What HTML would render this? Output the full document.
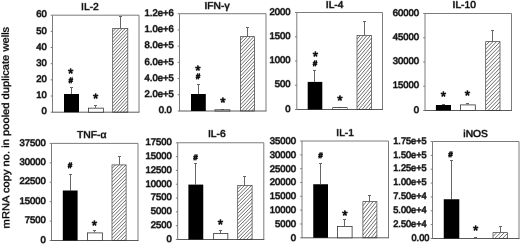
<!DOCTYPE html>
<html><head><meta charset="utf-8"><title>Cytokine mRNA copy numbers</title>
<style>
html,body{margin:0;padding:0;background:#fff;}
body{width:520px;height:244px;overflow:hidden;}
svg{display:block;font-family:"Liberation Sans",Arial,sans-serif;fill:#000;}
text{text-rendering:geometricPrecision;stroke:#777;stroke-width:1.1px;paint-order:stroke fill;stroke-linejoin:round;}
.tk{font-size:9.5px;text-anchor:end;}
.tt{font-size:10px;text-anchor:middle;stroke-width:0.95px;stroke:#808080;}
.yl{font-size:10.1px;text-anchor:start;stroke-width:0.7px;stroke:#888;}
.mk{text-anchor:middle;font-weight:bold;font-style:italic;stroke-width:0.9px;stroke:#333;}
.st{text-anchor:middle;font-size:13.6px;stroke-width:0.9px;stroke:#444}
.fr{fill:none;stroke:#7c7c7c;stroke-width:1;}
.ax{stroke:#5a5a5a;stroke-width:1;fill:none;}
.er{stroke:#666;stroke-width:1;fill:none;}
</style></head><body>
<svg width="520" height="244" viewBox="0 0 520 244">
<rect width="520" height="244" fill="#fff"/>
<text class="yl" transform="translate(9.4,228.4) rotate(-90.2)" textLength="201.6" lengthAdjust="spacingAndGlyphs">mRNA copy no. in pooled duplicate wells</text>
<g>
<text class="tt" transform="translate(89.95,9.60) scale(1.03,1)">IL-2</text>
<path class="fr" d="M52.5 112.2V15.2H139.0V112.2"/>
<path class="ax" d="M52.0 112.2H139.5"/>
<path class="fr" d="M50.7 15.20H52.5"/><text class="tk" x="46.90" y="17.40">60</text>
<path class="fr" d="M50.7 31.37H52.5"/><text class="tk" x="46.90" y="33.57">50</text>
<path class="fr" d="M50.7 47.53H52.5"/><text class="tk" x="46.90" y="49.73">40</text>
<path class="fr" d="M50.7 63.70H52.5"/><text class="tk" x="46.90" y="65.90">30</text>
<path class="fr" d="M50.7 79.87H52.5"/><text class="tk" x="46.90" y="82.07">20</text>
<path class="fr" d="M50.7 96.03H52.5"/><text class="tk" x="46.90" y="98.23">10</text>
<path class="fr" d="M50.7 112.20H52.5"/><text class="tk" x="46.90" y="114.40">0</text>
<path class="er" d="M71.50 94.00V87.00M70.00 87.50H73.00"/><rect x="64" y="94" width="15.00" height="18.20" fill="#000"/>
<path class="er" d="M95.50 107.75V105.00M94.00 105.50H97.00"/><rect x="88.4" y="108.15" width="14.95" height="4.05" fill="#fff" stroke="#333" stroke-width="0.8"/>
<path class="er" d="M120.50 28.00V16.00M119.00 16.50H122.00"/><clipPath id="c0"><rect x="112.70" y="28.40" width="15.10" height="83.80"/></clipPath><path clip-path="url(#c0)" d="M112.70 28.40L127.80 12.21M112.70 31.80L127.80 15.61M112.70 35.20L127.80 19.01M112.70 38.60L127.80 22.41M112.70 42.00L127.80 25.81M112.70 45.40L127.80 29.21M112.70 48.80L127.80 32.61M112.70 52.20L127.80 36.01M112.70 55.60L127.80 39.41M112.70 59.00L127.80 42.81M112.70 62.40L127.80 46.21M112.70 65.80L127.80 49.61M112.70 69.20L127.80 53.01M112.70 72.60L127.80 56.41M112.70 76.00L127.80 59.81M112.70 79.40L127.80 63.21M112.70 82.80L127.80 66.61M112.70 86.20L127.80 70.01M112.70 89.60L127.80 73.41M112.70 93.00L127.80 76.81M112.70 96.40L127.80 80.21M112.70 99.80L127.80 83.61M112.70 103.20L127.80 87.01M112.70 106.60L127.80 90.41M112.70 110.00L127.80 93.81M112.70 113.40L127.80 97.21M112.70 116.80L127.80 100.61M112.70 120.20L127.80 104.01M112.70 123.60L127.80 107.41M112.70 127.00L127.80 110.81" stroke="#333" stroke-width="0.72" fill="none"/><rect x="112.70" y="28.40" width="15.10" height="83.80" fill="none" stroke="#3a3a3a" stroke-width="0.7"/>
<text class="st" x="70.6" y="77.80">*</text>
<text class="mk" style="font-size:7.8px" x="70.6" y="83.45">#</text>
<text class="st" x="95.6" y="102.80">*</text>
</g>
<g>
<text class="tt" transform="translate(217.00,8.70) scale(1.03,1)">IFN-γ</text>
<path class="fr" d="M179.5 111.0V13.7H266.0V111.0"/>
<path class="ax" d="M179.0 111.0H266.5"/>
<path class="fr" d="M177.7 13.70H179.5"/><text class="tk" x="173.90" y="15.90">1.2e+6</text>
<path class="fr" d="M177.7 29.92H179.5"/><text class="tk" x="173.90" y="32.12">1.0e+6</text>
<path class="fr" d="M177.7 46.13H179.5"/><text class="tk" x="173.90" y="48.33">8.0e+5</text>
<path class="fr" d="M177.7 62.35H179.5"/><text class="tk" x="173.90" y="64.55">6.0e+5</text>
<path class="fr" d="M177.7 78.57H179.5"/><text class="tk" x="173.90" y="80.77">4.0e+5</text>
<path class="fr" d="M177.7 94.78H179.5"/><text class="tk" x="173.90" y="96.98">2.0e+5</text>
<path class="fr" d="M177.7 111.00H179.5"/><text class="tk" x="171.90" y="113.20">0.0</text>
<path class="er" d="M198.50 94.00V84.00M197.00 84.50H200.00"/><rect x="191" y="94" width="14.80" height="17.00" fill="#000"/>
<path class="er" d="M222.50 109.40V109.00M221.00 109.50H224.00"/><rect x="215.0" y="109.80000000000001" width="14.90" height="1.20" fill="#fff" stroke="#333" stroke-width="0.8"/>
<path class="er" d="M247.50 36.25V27.00M246.00 27.50H249.00"/><clipPath id="c1"><rect x="240.40" y="36.65" width="14.20" height="74.35"/></clipPath><path clip-path="url(#c1)" d="M240.40 36.65L254.60 21.42M240.40 40.25L254.60 25.02M240.40 43.85L254.60 28.62M240.40 47.45L254.60 32.22M240.40 51.05L254.60 35.82M240.40 54.65L254.60 39.42M240.40 58.25L254.60 43.02M240.40 61.85L254.60 46.62M240.40 65.45L254.60 50.22M240.40 69.05L254.60 53.82M240.40 72.65L254.60 57.42M240.40 76.25L254.60 61.02M240.40 79.85L254.60 64.62M240.40 83.45L254.60 68.22M240.40 87.05L254.60 71.82M240.40 90.65L254.60 75.42M240.40 94.25L254.60 79.02M240.40 97.85L254.60 82.62M240.40 101.45L254.60 86.22M240.40 105.05L254.60 89.82M240.40 108.65L254.60 93.42M240.40 112.25L254.60 97.02M240.40 115.85L254.60 100.62M240.40 119.45L254.60 104.22M240.40 123.05L254.60 107.82" stroke="#333" stroke-width="0.72" fill="none"/><rect x="240.40" y="36.65" width="14.20" height="74.35" fill="none" stroke="#3a3a3a" stroke-width="0.7"/>
<text class="st" x="198" y="75.10">*</text>
<text class="mk" style="font-size:7.8px" x="198" y="79.20">#</text>
<text class="st" x="223" y="106.60">*</text>
</g>
<g>
<text class="tt" transform="translate(334.65,8.30) scale(1.03,1)">IL-4</text>
<path class="fr" d="M296.8 109.5V12.5H382.5V109.5"/>
<path class="ax" d="M296.3 109.5H383.0"/>
<path class="fr" d="M295.0 12.50H296.8"/><text class="tk" x="290.60" y="14.70">2000</text>
<path class="fr" d="M295.0 36.75H296.8"/><text class="tk" x="290.60" y="38.95">1500</text>
<path class="fr" d="M295.0 61.00H296.8"/><text class="tk" x="290.60" y="63.20">1000</text>
<path class="fr" d="M295.0 85.25H296.8"/><text class="tk" x="290.60" y="87.45">500</text>
<path class="fr" d="M295.0 109.50H296.8"/><text class="tk" x="290.60" y="111.70">0</text>
<path class="er" d="M314.50 81.90V70.00M313.00 70.50H316.00"/><rect x="307.7" y="81.9" width="14.60" height="27.60" fill="#000"/>
<path class="er" d="M339.50 107.20V107.00M338.00 107.50H341.00"/><rect x="332.79999999999995" y="107.60000000000001" width="14.30" height="1.90" fill="#fff" stroke="#333" stroke-width="0.8"/>
<path class="er" d="M364.50 35.00V21.00M363.00 21.50H366.00"/><clipPath id="c2"><rect x="357.00" y="35.40" width="14.50" height="74.10"/></clipPath><path clip-path="url(#c2)" d="M357.00 35.40L371.50 18.12M357.00 39.40L371.50 22.12M357.00 43.40L371.50 26.12M357.00 47.40L371.50 30.12M357.00 51.40L371.50 34.12M357.00 55.40L371.50 38.12M357.00 59.40L371.50 42.12M357.00 63.40L371.50 46.12M357.00 67.40L371.50 50.12M357.00 71.40L371.50 54.12M357.00 75.40L371.50 58.12M357.00 79.40L371.50 62.12M357.00 83.40L371.50 66.12M357.00 87.40L371.50 70.12M357.00 91.40L371.50 74.12M357.00 95.40L371.50 78.12M357.00 99.40L371.50 82.12M357.00 103.40L371.50 86.12M357.00 107.40L371.50 90.12M357.00 111.40L371.50 94.12M357.00 115.40L371.50 98.12M357.00 119.40L371.50 102.12M357.00 123.40L371.50 106.12" stroke="#333" stroke-width="0.72" fill="none"/><rect x="357.00" y="35.40" width="14.50" height="74.10" fill="none" stroke="#3a3a3a" stroke-width="0.7"/>
<text class="st" x="315.5" y="61.30">*</text>
<text class="mk" style="font-size:7.8px" x="315" y="65.70">#</text>
<text class="st" x="340" y="104.80">*</text>
</g>
<g>
<text class="tt" transform="translate(464.25,8.40) scale(1.03,1)">IL-10</text>
<path class="fr" d="M425.0 110.5V13.5H511.5V110.5"/>
<path class="ax" d="M424.5 110.5H512.0"/>
<path class="fr" d="M423.2 13.50H425.0"/><text class="tk" x="419.10" y="15.50">60000</text>
<path class="fr" d="M423.2 37.75H425.0"/><text class="tk" x="419.10" y="39.75">45000</text>
<path class="fr" d="M423.2 62.00H425.0"/><text class="tk" x="419.10" y="64.00">30000</text>
<path class="fr" d="M423.2 86.25H425.0"/><text class="tk" x="419.10" y="88.25">15000</text>
<path class="fr" d="M423.2 110.50H425.0"/><text class="tk" x="419.10" y="112.50">0</text>
<path class="er" d="M443.50 105.00V104.00M442.00 104.50H445.00"/><rect x="435.9" y="105" width="15.10" height="5.50" fill="#000"/>
<path class="er" d="M467.50 104.50V103.00M466.00 103.50H469.00"/><rect x="460.4" y="104.9" width="14.90" height="5.60" fill="#fff" stroke="#333" stroke-width="0.8"/>
<path class="er" d="M492.50 41.25V30.00M491.00 30.50H494.00"/><clipPath id="c3"><rect x="485.70" y="41.65" width="14.30" height="68.85"/></clipPath><path clip-path="url(#c3)" d="M485.70 41.65L500.00 26.84M485.70 45.40L500.00 30.59M485.70 49.15L500.00 34.34M485.70 52.90L500.00 38.09M485.70 56.65L500.00 41.84M485.70 60.40L500.00 45.59M485.70 64.15L500.00 49.34M485.70 67.90L500.00 53.09M485.70 71.65L500.00 56.84M485.70 75.40L500.00 60.59M485.70 79.15L500.00 64.34M485.70 82.90L500.00 68.09M485.70 86.65L500.00 71.84M485.70 90.40L500.00 75.59M485.70 94.15L500.00 79.34M485.70 97.90L500.00 83.09M485.70 101.65L500.00 86.84M485.70 105.40L500.00 90.59M485.70 109.15L500.00 94.34M485.70 112.90L500.00 98.09M485.70 116.65L500.00 101.84M485.70 120.40L500.00 105.59M485.70 124.15L500.00 109.34" stroke="#333" stroke-width="0.72" fill="none"/><rect x="485.70" y="41.65" width="14.30" height="68.85" fill="none" stroke="#3a3a3a" stroke-width="0.7"/>
<text class="st" x="443.4" y="100.80">*</text>
<text class="st" x="467.4" y="100.30">*</text>
</g>
<g>
<text class="tt" transform="translate(91.65,138.40) scale(1.03,1)">TNF-α</text>
<path class="fr" d="M51.5 240.5V143.4H138.0V240.5"/>
<path class="ax" d="M51.0 240.5H138.5"/>
<path class="fr" d="M49.7 143.40H51.5"/><text class="tk" x="45.90" y="145.60">37500</text>
<path class="fr" d="M49.7 162.82H51.5"/><text class="tk" x="45.90" y="165.02">30000</text>
<path class="fr" d="M49.7 182.24H51.5"/><text class="tk" x="45.90" y="184.44">22500</text>
<path class="fr" d="M49.7 201.66H51.5"/><text class="tk" x="45.90" y="203.86">15000</text>
<path class="fr" d="M49.7 221.08H51.5"/><text class="tk" x="45.90" y="223.28">7500</text>
<path class="fr" d="M49.7 240.50H51.5"/><text class="tk" x="45.90" y="242.70">0</text>
<path class="er" d="M70.50 190.50V174.00M69.00 174.50H72.00"/><rect x="62.8" y="190.5" width="14.80" height="50.00" fill="#000"/>
<path class="er" d="M94.50 232.50V230.00M93.00 230.50H96.00"/><rect x="87.5" y="232.9" width="14.85" height="7.60" fill="#fff" stroke="#333" stroke-width="0.8"/>
<path class="er" d="M119.50 164.50V156.00M118.00 156.50H121.00"/><clipPath id="c4"><rect x="112.00" y="164.90" width="14.10" height="75.60"/></clipPath><path clip-path="url(#c4)" d="M112.00 164.90L126.10 150.80M112.00 168.40L126.10 154.30M112.00 171.90L126.10 157.80M112.00 175.40L126.10 161.30M112.00 178.90L126.10 164.80M112.00 182.40L126.10 168.30M112.00 185.90L126.10 171.80M112.00 189.40L126.10 175.30M112.00 192.90L126.10 178.80M112.00 196.40L126.10 182.30M112.00 199.90L126.10 185.80M112.00 203.40L126.10 189.30M112.00 206.90L126.10 192.80M112.00 210.40L126.10 196.30M112.00 213.90L126.10 199.80M112.00 217.40L126.10 203.30M112.00 220.90L126.10 206.80M112.00 224.40L126.10 210.30M112.00 227.90L126.10 213.80M112.00 231.40L126.10 217.30M112.00 234.90L126.10 220.80M112.00 238.40L126.10 224.30M112.00 241.90L126.10 227.80M112.00 245.40L126.10 231.30M112.00 248.90L126.10 234.80M112.00 252.40L126.10 238.30" stroke="#333" stroke-width="0.72" fill="none"/><rect x="112.00" y="164.90" width="14.10" height="75.60" fill="none" stroke="#3a3a3a" stroke-width="0.7"/>
<text class="mk" style="font-size:7.8px" x="70" y="167.70">#</text>
<text class="st" x="94.4" y="229.55">*</text>
</g>
<g>
<text class="tt" transform="translate(216.75,137.15) scale(1.03,1)">IL-6</text>
<path class="fr" d="M177.7 239.5V142.75H263.8V239.5"/>
<path class="ax" d="M177.2 239.5H264.3"/>
<path class="fr" d="M175.89999999999998 142.75H177.7"/><text class="tk" x="171.80" y="145.05">17500</text>
<path class="fr" d="M175.89999999999998 156.57H177.7"/><text class="tk" x="171.80" y="158.87">15000</text>
<path class="fr" d="M175.89999999999998 170.39H177.7"/><text class="tk" x="171.80" y="172.69">12500</text>
<path class="fr" d="M175.89999999999998 184.21H177.7"/><text class="tk" x="171.80" y="186.51">10000</text>
<path class="fr" d="M175.89999999999998 198.04H177.7"/><text class="tk" x="171.80" y="200.34">7500</text>
<path class="fr" d="M175.89999999999998 211.86H177.7"/><text class="tk" x="171.80" y="214.16">5000</text>
<path class="fr" d="M175.89999999999998 225.68H177.7"/><text class="tk" x="171.80" y="227.98">2500</text>
<path class="fr" d="M175.89999999999998 239.50H177.7"/><text class="tk" x="171.80" y="241.80">0</text>
<path class="er" d="M195.50 184.60V163.00M194.00 163.50H197.00"/><rect x="188.4" y="184.6" width="14.85" height="54.90" fill="#000"/>
<path class="er" d="M220.50 233.00V230.00M219.00 230.50H222.00"/><rect x="213.65" y="233.4" width="14.20" height="6.10" fill="#fff" stroke="#333" stroke-width="0.8"/>
<path class="er" d="M244.50 185.00V176.00M243.00 176.50H246.00"/><clipPath id="c5"><rect x="237.70" y="185.40" width="14.40" height="54.10"/></clipPath><path clip-path="url(#c5)" d="M237.70 185.40L252.10 171.00M237.70 188.90L252.10 174.50M237.70 192.40L252.10 178.00M237.70 195.90L252.10 181.50M237.70 199.40L252.10 185.00M237.70 202.90L252.10 188.50M237.70 206.40L252.10 192.00M237.70 209.90L252.10 195.50M237.70 213.40L252.10 199.00M237.70 216.90L252.10 202.50M237.70 220.40L252.10 206.00M237.70 223.90L252.10 209.50M237.70 227.40L252.10 213.00M237.70 230.90L252.10 216.50M237.70 234.40L252.10 220.00M237.70 237.90L252.10 223.50M237.70 241.40L252.10 227.00M237.70 244.90L252.10 230.50M237.70 248.40L252.10 234.00M237.70 251.90L252.10 237.50" stroke="#333" stroke-width="0.72" fill="none"/><rect x="237.70" y="185.40" width="14.40" height="54.10" fill="none" stroke="#3a3a3a" stroke-width="0.7"/>
<text class="mk" style="font-size:7.8px" x="195.5" y="159.70">#</text>
<text class="st" x="220.5" y="228.55">*</text>
</g>
<g>
<text class="tt" transform="translate(345.15,136.20) scale(1.03,1)">IL-1</text>
<path class="fr" d="M302.0 237.8V141.0H388.5V237.8"/>
<path class="ax" d="M301.5 237.8H389.0"/>
<path class="fr" d="M300.2 141.00H302.0"/><text class="tk" x="296.10" y="143.90">35000</text>
<path class="fr" d="M300.2 154.83H302.0"/><text class="tk" x="296.10" y="157.73">30000</text>
<path class="fr" d="M300.2 168.66H302.0"/><text class="tk" x="296.10" y="171.56">25000</text>
<path class="fr" d="M300.2 182.49H302.0"/><text class="tk" x="296.10" y="185.39">20000</text>
<path class="fr" d="M300.2 196.31H302.0"/><text class="tk" x="296.10" y="199.21">15000</text>
<path class="fr" d="M300.2 210.14H302.0"/><text class="tk" x="296.10" y="213.04">10000</text>
<path class="fr" d="M300.2 223.97H302.0"/><text class="tk" x="296.10" y="226.87">5000</text>
<path class="fr" d="M300.2 237.80H302.0"/><text class="tk" x="296.10" y="240.70">0</text>
<path class="er" d="M320.50 184.25V163.00M319.00 163.50H322.00"/><rect x="313.25" y="184.25" width="14.75" height="53.55" fill="#000"/>
<path class="er" d="M344.50 226.00V219.00M343.00 219.50H346.00"/><rect x="337.4" y="226.4" width="14.70" height="11.40" fill="#fff" stroke="#333" stroke-width="0.8"/>
<path class="er" d="M369.50 201.25V195.00M368.00 195.50H371.00"/><clipPath id="c6"><rect x="362.90" y="201.65" width="14.00" height="36.15"/></clipPath><path clip-path="url(#c6)" d="M362.90 201.65L376.90 184.36M362.90 205.85L376.90 188.56M362.90 210.05L376.90 192.76M362.90 214.25L376.90 196.96M362.90 218.45L376.90 201.16M362.90 222.65L376.90 205.36M362.90 226.85L376.90 209.56M362.90 231.05L376.90 213.76M362.90 235.25L376.90 217.96M362.90 239.45L376.90 222.16M362.90 243.65L376.90 226.36M362.90 247.85L376.90 230.56M362.90 252.05L376.90 234.76" stroke="#333" stroke-width="0.72" fill="none"/><rect x="362.90" y="201.65" width="14.00" height="36.15" fill="none" stroke="#3a3a3a" stroke-width="0.7"/>
<text class="mk" style="font-size:7.8px" x="320.4" y="157.95">#</text>
<text class="st" x="345" y="219.80">*</text>
</g>
<g>
<text class="tt" transform="translate(475.65,136.65) scale(1.03,1)">iNOS</text>
<path class="fr" d="M432.5 238.5V141.5H519.0V238.5"/>
<path class="ax" d="M432.0 238.5H519.5"/>
<path class="fr" d="M430.7 141.50H432.5"/><text class="tk" transform="translate(426.70,143.70) scale(0.967,1)">1.75e+5</text>
<path class="fr" d="M430.7 155.36H432.5"/><text class="tk" transform="translate(426.70,157.56) scale(0.967,1)">1.50e+5</text>
<path class="fr" d="M430.7 169.21H432.5"/><text class="tk" transform="translate(426.70,171.41) scale(0.967,1)">1.25e+5</text>
<path class="fr" d="M430.7 183.07H432.5"/><text class="tk" transform="translate(426.70,185.27) scale(0.967,1)">1.00e+5</text>
<path class="fr" d="M430.7 196.93H432.5"/><text class="tk" transform="translate(426.70,199.13) scale(0.967,1)">7.50e+4</text>
<path class="fr" d="M430.7 210.79H432.5"/><text class="tk" transform="translate(426.70,212.99) scale(0.967,1)">5.00e+4</text>
<path class="fr" d="M430.7 224.64H432.5"/><text class="tk" transform="translate(426.70,226.84) scale(0.967,1)">2.50e+4</text>
<path class="fr" d="M430.7 238.50H432.5"/><text class="tk" transform="translate(429.40,240.70) scale(0.967,1)">0.00</text>
<path class="er" d="M451.50 199.25V160.00M450.00 160.50H453.00"/><rect x="443.75" y="199.25" width="15.55" height="39.25" fill="#000"/>
<path class="er" d="M475.50 238.50V237.00M474.00 237.50H477.00"/><path class="er" d="M500.50 232.25V226.00M499.00 226.50H502.00"/><clipPath id="c7"><rect x="493.00" y="232.65" width="14.60" height="5.85"/></clipPath><path clip-path="url(#c7)" d="M493.00 232.65L507.60 218.05M493.00 236.45L507.60 221.85M493.00 240.25L507.60 225.65M493.00 244.05L507.60 229.45M493.00 247.85L507.60 233.25M493.00 251.65L507.60 237.05" stroke="#333" stroke-width="0.72" fill="none"/><rect x="493.00" y="232.65" width="14.60" height="5.85" fill="none" stroke="#3a3a3a" stroke-width="0.7"/>
<text class="mk" style="font-size:7.8px" x="450.5" y="156.70">#</text>
<text class="st" x="475.75" y="234.80">*</text>
</g>
</svg>
</body></html>
